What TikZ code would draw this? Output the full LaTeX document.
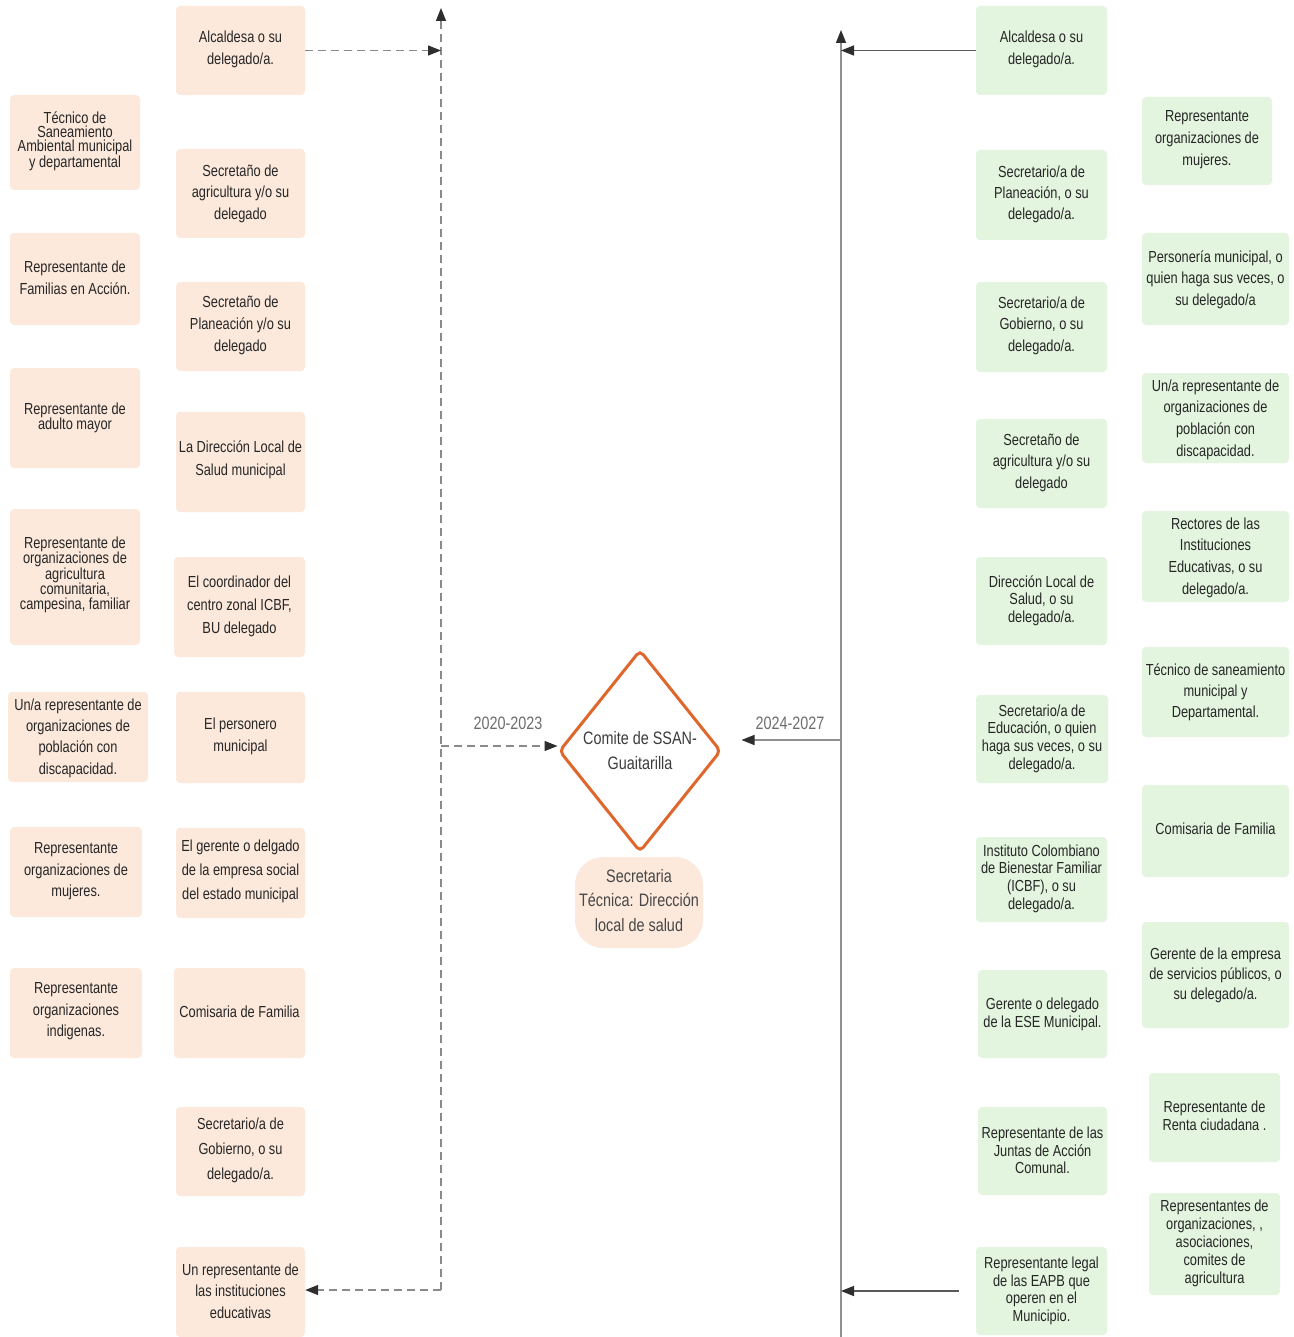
\documentclass[tikz,border=0pt]{standalone}
\usepackage{fontspec}
\setmainfont{Liberation Sans}[FakeStretch=0.8]
\usetikzlibrary{arrows.meta,shapes.geometric}
\definecolor{pinkc}{HTML}{FCE9DC}
\definecolor{greenc}{HTML}{E3F5DF}
\definecolor{txtc}{HTML}{262626}
\definecolor{yrc}{HTML}{6E6E6E}
\definecolor{dashc}{HTML}{8A8A8A}
\definecolor{solc}{HTML}{909090}
\definecolor{hsolc}{HTML}{5A5A5A}
\definecolor{tipc}{HTML}{2E2E2E}
\definecolor{orgc}{HTML}{E0672C}
\tikzset{
  pbox/.style={fill=pinkc, rounded corners=4pt, inner sep=0pt, draw=none},
  gbox/.style={fill=greenc, rounded corners=4pt, inner sep=0pt, draw=none},
  txt/.style={inner sep=0pt, align=center, text=txtc},
  dline/.style={draw=dashc, line width=1.2pt, dash pattern=on 8pt off 5pt},
  sline/.style={draw=solc, line width=1.5pt},
  hline/.style={draw=hsolc, line width=1.5pt},
  arrtip/.style={-{Triangle[length=13pt,width=10pt,color=tipc]}},
  yr/.style={inner sep=0pt, text=yrc, font=\fontsize{18}{20}\selectfont}
}
\newcommand{\mkbox}[9]{%
  \node[#2, minimum width={#5-#3}, minimum height={#6-#4}] (#1) at ({(#3+#5)/2},{(#4+#6)/2}) {};
  \node[txt, font=\fontsize{16}{#8}\selectfont] (#1t) at ({(#3+#5)/2},#7) {#9};
}
\begin{document}
\begin{tikzpicture}[x=1pt,y=-1pt]
\useasboundingbox (0,0) rectangle (1293,1337);
\fill[white] (0,0) rectangle (1293,1337);

% left column
\mkbox{l1}{pbox}{10}{95}{140}{190}{141}{14}{Técnico de\\Saneamiento\\Ambiental municipal\\y departamental}
\mkbox{l2}{pbox}{10}{233}{140}{325}{278}{22}{Representante de\\Familias en Acción.}
\mkbox{l3}{pbox}{10}{368}{140}{468}{417.5}{15}{Representante de\\adulto mayor}
\mkbox{l4}{pbox}{10}{509}{140}{645}{575}{15.3}{Representante de\\organizaciones de\\agricultura\\comunitaria,\\campesina, familiar}
\mkbox{l5}{pbox}{8}{692}{148}{782}{738}{21.3}{Un/a representante de\\organizaciones de\\población con\\discapacidad.}
\mkbox{l6}{pbox}{10}{827}{142}{917}{871.5}{21.5}{Representante\\organizaciones de\\mujeres.}
\mkbox{l7}{pbox}{10}{968}{142}{1058}{1011.5}{21.5}{Representante\\organizaciones\\indigenas.}

% middle column
\mkbox{m1}{pbox}{176}{6}{305}{95}{49}{22}{Alcaldesa o su\\delegado/a.}
\mkbox{m2}{pbox}{176}{149}{305}{238}{193.5}{21.5}{Secretaño de\\agricultura y/o su\\delegado}
\mkbox{m3}{pbox}{176}{282}{305}{371}{325}{22}{Secretaño de\\Planeación y/o su\\delegado}
\mkbox{m4}{pbox}{176}{412}{305}{512}{460}{23}{La Dirección Local de\\Salud municipal}
\mkbox{m5}{pbox}{174}{557}{305}{657}{606}{23}{El coordinador del\\centro zonal ICBF,\\BU delegado}
\mkbox{m6}{pbox}{176}{692}{305}{783}{736}{22}{El personero\\municipal}
\mkbox{m7}{pbox}{176}{828}{305}{918}{871}{24}{El gerente o delgado\\de la empresa social\\del estado municipal}
\mkbox{m8}{pbox}{174}{968}{305}{1058}{1012}{22}{Comisaria de Familia}
\mkbox{m9}{pbox}{176}{1107}{305}{1196}{1150}{25}{Secretario/a de\\Gobierno, o su\\delegado/a.}
\mkbox{m10}{pbox}{176}{1247}{305}{1337}{1291}{21.5}{Un representante de\\las instituciones\\educativas}

% right-middle column
\mkbox{r1}{gbox}{976}{6}{1107}{95}{49}{22}{Alcaldesa o su\\delegado/a.}
\mkbox{r2}{gbox}{976}{150}{1107}{240}{194}{21}{Secretario/a de\\Planeación, o su\\delegado/a.}
\mkbox{r3}{gbox}{976}{282}{1107}{372}{325.5}{21.5}{Secretario/a de\\Gobierno, o su\\delegado/a.}
\mkbox{r4}{gbox}{976}{419}{1107}{508}{462.5}{21.5}{Secretaño de\\agricultura y/o su\\delegado}
\mkbox{r5}{gbox}{976}{557}{1107}{645}{600.5}{17.5}{Dirección Local de\\Salud, o su\\delegado/a.}
\mkbox{r6}{gbox}{976}{695}{1108}{783}{738.5}{17.7}{Secretario/a de\\Educación, o quien\\haga sus veces, o su\\delegado/a.}
\mkbox{r7}{gbox}{976}{837}{1107}{922}{878.5}{17.7}{Instituto Colombiano\\de Bienestar Familiar\\(ICBF), o su\\delegado/a.}
\mkbox{r8}{gbox}{978}{970}{1107}{1058}{1014}{18}{Gerente o delegado\\de la ESE Municipal.}
\mkbox{r9}{gbox}{978}{1107}{1107}{1195}{1150.5}{17.5}{Representante de las\\Juntas de Acción\\Comunal.}
\mkbox{r10}{gbox}{976}{1247}{1107}{1335}{1291}{17.5}{Representante legal\\de las EAPB que\\operen en el\\Municipio.}

% far right column
\mkbox{f1}{gbox}{1142}{97}{1272}{185}{140}{22}{Representante\\organizaciones de\\mujeres.}
\mkbox{f2}{gbox}{1142}{233}{1289}{325}{279.5}{21.5}{Personería municipal, o\\quien haga sus veces, o\\su delegado/a}
\mkbox{f3}{gbox}{1142}{373}{1289}{463}{419.5}{21.7}{Un/a representante de\\organizaciones de\\población con\\discapacidad.}
\mkbox{f4}{gbox}{1142}{511}{1289}{602}{557.5}{21.7}{Rectores de las\\Instituciones\\Educativas, o su\\delegado/a.}
\mkbox{f5}{gbox}{1142}{647}{1289}{737}{692}{21}{Técnico de saneamiento\\municipal y\\Departamental.}
\mkbox{f6}{gbox}{1142}{785}{1289}{877}{829}{20}{Comisaria de Familia}
\mkbox{f7}{gbox}{1142}{922}{1289}{1028}{975}{20}{Gerente de la empresa\\de servicios públicos, o\\su delegado/a.}
\mkbox{f8}{gbox}{1149}{1073}{1280}{1162}{1116}{18}{Representante de\\Renta ciudadana .}
\mkbox{f9}{gbox}{1149}{1193}{1280}{1295}{1243}{18}{Representantes de\\organizaciones, ,\\asociaciones,\\comites de\\agricultura}

% centre
\node[diamond, draw=orgc, line width=3pt, rounded corners=5pt, inner sep=0pt,
      minimum width=162, minimum height=202] (d) at (640,751) {};
\node[txt, font=\fontsize{18}{25}\selectfont, text=txtc!90] (dt) at (640,750.5) {Comite de SSAN-\\Guaitarilla};
\node[pbox, rounded corners=28pt, minimum width=128, minimum height=91] (st) at (639,902.5) {};
\node[txt, font=\fontsize{18}{24.5}\selectfont, text=txtc!85] (stt) at (639,900.5) {Secretaria\\Técnica: Dirección\\local de salud};
\node[yr] (y1) at (508,723) {2020-2023};
\node[yr] (y2) at (790,723) {2024-2027};

% connector coordinates
\coordinate (ltop) at (441,8);
\coordinate (lbot) at (441,1290);
\coordinate (lmid) at (441,746);
\coordinate (rtop) at (841,30);
\coordinate (rbot) at (841,1337);
\coordinate (rmid) at (841,740);

% left (dashed)
\draw[dline, arrtip] (lbot) -- (ltop);
\draw[dline, arrtip] (m1.east) -- (m1.east -| ltop);
\draw[dline, arrtip] (lmid) -- (lmid -| d.west);
\draw[dline, arrtip] (lbot) -- (lbot -| m10.east);

% right (solid)
\draw[sline, arrtip] (rbot) -- (rtop);
\draw[hline, arrtip] (r1.west) -- (r1.west -| rtop);
\draw[sline, arrtip, shorten >=19pt] (rmid) -- (rmid -| d.east);
\draw[hline, arrtip, shorten <=17pt] (r10.west) -- (r10.west -| rtop);
\end{tikzpicture}
\end{document}
